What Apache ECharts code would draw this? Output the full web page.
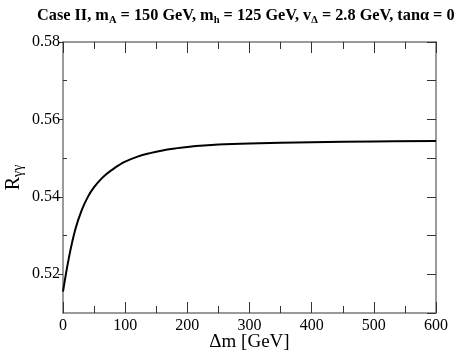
<!DOCTYPE html>
<html>
<head>
<meta charset="utf-8">
<script src="https://cdn.jsdelivr.net/npm/echarts@6/dist/echarts.min.js"></script>
<style>
  html, body { margin: 0; padding: 0; background: #fff; }
  #chart { width: 463px; height: 352px; }
</style>
</head>
<body>
<div id="chart"></div>
<script>
// values
const deltaM = [0, 10, 20, 30, 40, 50, 60, 70, 80, 90, 100, 120, 140, 160, 180, 200, 250, 300, 400, 500, 600];
const rGammaGamma = [0.5155, 0.5247, 0.5317, 0.5365, 0.5400, 0.5425, 0.5444, 0.5459, 0.5471, 0.5482,
    0.5491, 0.5504, 0.5513, 0.5520, 0.5525, 0.5529, 0.5535, 0.5538, 0.5541, 0.5543, 0.5544];
const yMajor = [0.52, 0.54, 0.56, 0.58];
const yMinor = [0.53, 0.55, 0.57];

const serif = '"Liberation Serif", "DejaVu Serif", serif';
const frameColor = '#7a7a7a';
const tickColor = '#333';

const chart = echarts.init(document.getElementById('chart'));

const baseX = {
    type: 'value',
    min: 0,
    max: 600,
    interval: 100,
    splitLine: { show: false },
    axisLine: { onZero: false, lineStyle: { color: frameColor, width: 1.5 } },
    axisTick: { inside: true, length: 11, lineStyle: { color: tickColor, width: 1 } },
    minorTick: { show: true, splitNumber: 2, length: 7, lineStyle: { color: tickColor, width: 1 } }
};

const baseY = {
    type: 'value',
    min: 0.51,
    max: 0.58,
    interval: 0.01,
    splitLine: { show: false },
    axisLine: { onZero: false, lineStyle: { color: frameColor, width: 1.5 } }
};

chart.setOption({
    animation: false,
    title: {
        text: 'Case II, m{sub|A} = 150 GeV, m{sub|h} = 125 GeV, v{sub|Δ} = 2.8 GeV, tanα = 0',
        left: 37,
        top: 5,
        padding: 0,
        textStyle: {
            fontFamily: serif,
            fontWeight: 'bold',
            fontSize: 16.3,
            color: '#000',
            rich: {
                sub: { fontFamily: serif, fontWeight: 'bold', fontSize: 10.5, color: '#000', padding: [10, 0, 0, 0] }
            }
        }
    },
    grid: { left: 63, top: 42, right: 27, bottom: 39, outerBoundsMode: 'none', containLabel: false },
    xAxis: [
        Object.assign({}, baseX, {
            position: 'bottom',
            name: 'Δm [GeV]',
            nameLocation: 'middle',
            nameGap: 20,
            nameMoveOverlap: false,
            nameTextStyle: { fontFamily: serif, fontSize: 19, color: '#000' },
            axisLabel: { fontFamily: serif, fontSize: 16, color: '#000', margin: 5 }
        }),
        Object.assign({}, baseX, {
            position: 'top',
            axisLabel: { show: false }
        })
    ],
    yAxis: [
        Object.assign({}, baseY, {
            position: 'left',
            name: 'R{sub|γγ}',
            nameLocation: 'middle',
            nameGap: 38,
            nameRotate: 90,
            nameMoveOverlap: false,
            nameTextStyle: {
                fontFamily: serif, fontSize: 20, color: '#000',
                rich: { sub: { fontFamily: serif, fontSize: 14, color: '#000', padding: [8, 0, 0, 0] } }
            },
            axisTick: { inside: false, length: 5, customValues: yMajor, lineStyle: { color: tickColor, width: 1 } },
            axisLabel: {
                fontFamily: serif, fontSize: 16, color: '#000', margin: 3,
                customValues: yMajor,
                formatter: function (v) { return v.toFixed(2); }
            }
        }),
        Object.assign({}, baseY, {
            position: 'left',
            axisLine: { show: false },
            axisTick: { inside: true, length: 4, customValues: yMinor, lineStyle: { color: tickColor, width: 1 } },
            axisLabel: { show: false }
        }),
        Object.assign({}, baseY, {
            position: 'right',
            axisTick: { inside: true, length: 9, lineStyle: { color: tickColor, width: 1 } },
            axisLabel: { show: false }
        })
    ],
    series: [
        {
            type: 'line',
            data: deltaM.map((d, i) => [d, rGammaGamma[i]]),
            smooth: 0.4,
            showSymbol: false,
            lineStyle: { color: '#000', width: 2 }
        }
    ]
});
</script>
</body>
</html>
